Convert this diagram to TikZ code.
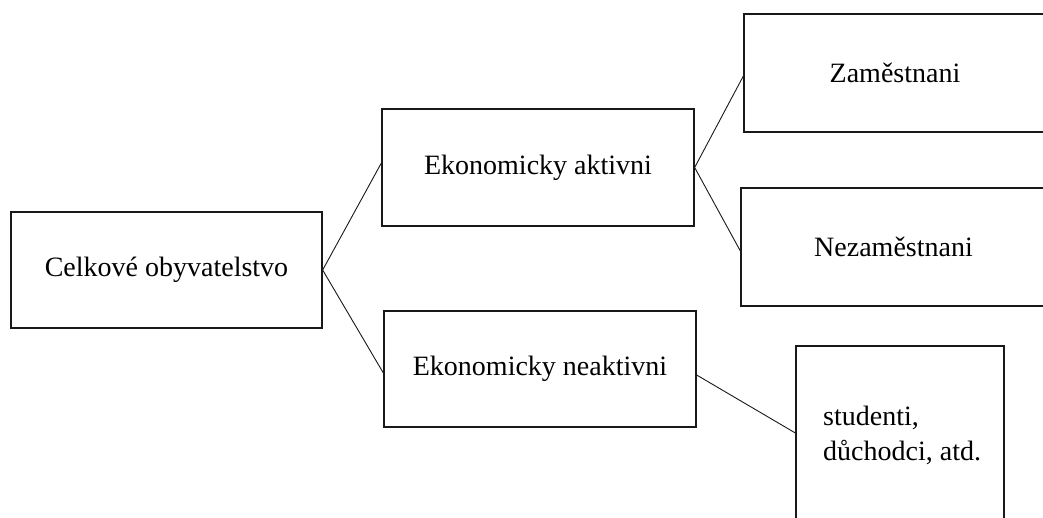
\documentclass[tikz,border=0pt]{standalone}
\usepackage{fontspec}
\setmainfont{Liberation Serif}
\begin{document}
\begin{tikzpicture}[x=1pt,y=-1pt,
  box/.style={draw=black!90, line width=1.3pt, inner sep=0pt, font=\fontsize{28}{34}\selectfont},
  txt/.style={inner sep=0pt, font=\fontsize{28}{34}\selectfont},
  link/.style={draw=black!90, line width=0.9pt}]
\useasboundingbox (0,0) rectangle (1043,518);
\clip (0,0) rectangle (1043,518);
\node[box, minimum width=311pt, minimum height=116pt] (cel) at (166.5,270) {Celkové obyvatelstvo};
\node[box, minimum width=312pt, minimum height=117pt] (akt) at (538,167.5) {Ekonomicky aktivni};
\node[box, minimum width=312pt, minimum height=116pt] (neakt) at (540,369) {Ekonomicky neaktivni};
\node[box, minimum width=302pt, minimum height=118pt] (zam) at (895,73) {Zaměstnani};
\node[box, minimum width=305pt, minimum height=118pt] (nezam) at (893.5,247) {Nezaměstnani};
\node[box, minimum width=208pt, minimum height=194pt] (stud) at (900,443) {};
\node[txt, anchor=base west] (s1) at (823,425) {studenti,};
\node[txt, anchor=base west] (s2) at (823,460) {důchodci, atd.};
\draw[link] (cel.east) -- ([yshift=4.5pt]akt.west);
\draw[link] (cel.east) -- ([yshift=-4pt]neakt.west);
\draw[link] (akt.east) -- ([yshift=-3pt]zam.west);
\draw[link] (akt.east) -- ([yshift=-4pt]nezam.west);
\draw[link] ([yshift=-6pt]neakt.east) -- ([yshift=10pt]stud.west);
\end{tikzpicture}
\end{document}
